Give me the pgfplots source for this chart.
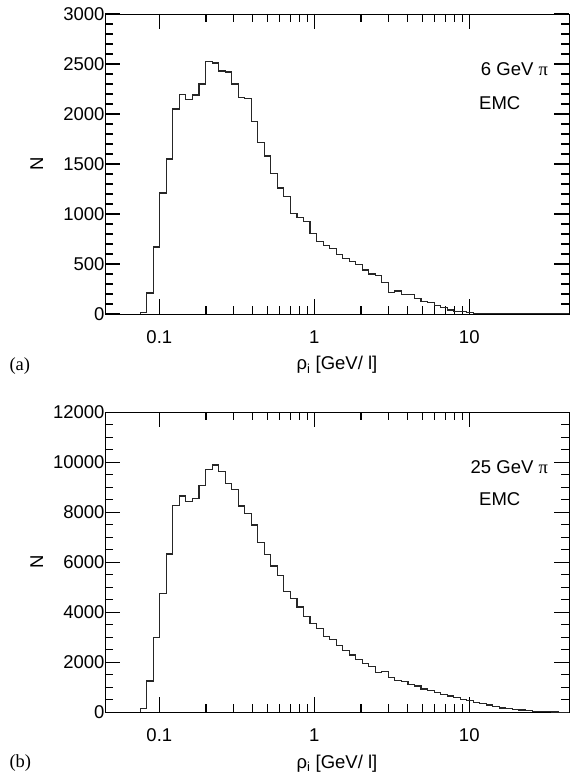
\documentclass[border=0pt]{standalone}
\usepackage{fontspec}
\setmainfont{Liberation Sans}
\newfontfamily\timesfont{Liberation Serif}
\usepackage{pgfplots}
\usepackage{pgfplotstable}
\pgfplotsset{compat=1.18}

% bin lower edge, counts (6 GeV pi)
\pgfplotstableread{
x n
0.07528 0
0.07528 15
0.08295 210
0.09140 670
0.10072 1210
0.11098 1550
0.12229 2050
0.13475 2195
0.14848 2145
0.16360 2190
0.18027 2300
0.19864 2525
0.21888 2510
0.24118 2430
0.26576 2420
0.29284 2300
0.32268 2165
0.35556 2155
0.39179 1925
0.43171 1715
0.47569 1580
0.52416 1405
0.57757 1260
0.63642 1177
0.70127 1003
0.77273 967
0.85146 923
0.93822 807
1.03382 723
1.13915 683
1.25524 653
1.38313 593
1.52406 553
1.67935 523
1.85047 493
2.03902 440
2.24679 400
2.47571 383
2.72798 313
3.00594 213
3.31222 230
3.64971 197
4.02158 193
4.43136 157
4.88290 123
5.38045 113
5.92865 83
6.53278 67
7.19841 40
7.93188 27
8.74010 23
9.63067 13
10.6119 7
11.6932 4
12.8847 3
14.1975 2
15.6441 2
17.2382 1
18.9947 1
20.9302 0
44.0 0
}\sixgev

% bin lower edge, counts (25 GeV pi)
\pgfplotstableread{
x n
0.07528 0
0.07528 150
0.08295 1250
0.09140 3000
0.10072 4760
0.11098 6330
0.12229 8280
0.13475 8650
0.14848 8430
0.16360 8550
0.18027 9060
0.19864 9700
0.21888 9890
0.24118 9630
0.26576 9160
0.29284 8900
0.32268 8250
0.35556 7960
0.39179 7490
0.43171 6780
0.47569 6320
0.52416 5850
0.57757 5465
0.63642 4840
0.70127 4545
0.77273 4210
0.85146 3825
0.93822 3560
1.03382 3345
1.13915 3025
1.25524 2905
1.38313 2665
1.52406 2465
1.67935 2290
1.85047 2120
2.03902 1960
2.24679 1840
2.47571 1600
2.72798 1625
3.00594 1385
3.31222 1280
3.64971 1225
4.02158 1120
4.43136 1052
4.88290 932
5.38045 880
5.92865 785
6.53278 705
7.19841 652
7.93188 585
8.74010 520
9.63067 465
10.6119 400
11.6932 345
12.8847 292
14.1975 225
15.6441 172
17.2382 145
18.9947 118
20.9302 92
23.0628 62
25.4127 40
28.0020 25
30.8553 15
33.9994 10
37.4635 5
41.2811 0
44.0 0
}\twentyfivegev

\begin{document}
\begin{tikzpicture}[font=\fontsize{18.5}{22}\selectfont]
\useasboundingbox (0pt,0pt) rectangle (570pt,779pt);

\begin{axis}[at={(105pt,465pt)}, anchor=south west,
  scale only axis, width=464pt, height=300pt,
  xmode=log, xmin=0.0446, xmax=44,
  xtick={0.1,1,10}, xticklabels={0.1,1,10},
  major tick length=15pt, minor tick length=8pt,
  every major tick/.append style={line width=1.1pt, black},
  every minor tick/.append style={line width=1.1pt, black},
  scaled y ticks=false,
  yticklabel style={/pgf/number format/assume math mode=true,
    /pgf/number format/1000 sep={}, xshift=3pt},
  xticklabel style={yshift=-13pt},
  xlabel={ρ\textsubscript{i} [GeV/ l]},
  ylabel={N},
  xlabel style={at={(axis description cs:0.5,-0.17)}, anchor=center},
  ylabel style={at={(axis description cs:-0.147,0.5)}, anchor=center},
  ymin=0, ymax=3000, ytick={0,500,...,3000}, minor y tick num=4]
\addplot[const plot mark left, no marks, line width=1.1pt, black!85]
  table[x=x, y=n] {\sixgev};
\node[anchor=east, inner sep=0pt] at (rel axis cs:0.955,0.817) {6 GeV {\timesfont π}};
\node[anchor=west, inner sep=0pt] at (rel axis cs:0.806,0.703) {EMC};
\end{axis}
\node[anchor=west, font=\fontsize{18.5}{22}\timesfont] at (6pt,413pt) {(a)};

\begin{axis}[at={(105pt,66.7pt)}, anchor=south west,
  scale only axis, width=464pt, height=300pt,
  xmode=log, xmin=0.0446, xmax=44,
  xtick={0.1,1,10}, xticklabels={0.1,1,10},
  major tick length=15pt, minor tick length=8pt,
  every major tick/.append style={line width=1.1pt, black},
  every minor tick/.append style={line width=1.1pt, black},
  scaled y ticks=false,
  yticklabel style={/pgf/number format/assume math mode=true,
    /pgf/number format/1000 sep={}, xshift=3pt},
  xticklabel style={yshift=-13pt},
  xlabel={ρ\textsubscript{i} [GeV/ l]},
  ylabel={N},
  xlabel style={at={(axis description cs:0.5,-0.17)}, anchor=center},
  ylabel style={at={(axis description cs:-0.147,0.5)}, anchor=center},
  ymin=0, ymax=12000, ytick={0,2000,...,12000}, minor y tick num=3]
\addplot[const plot mark left, no marks, line width=1.1pt, black!85]
  table[x=x, y=n] {\twentyfivegev};
\node[anchor=east, inner sep=0pt] at (rel axis cs:0.955,0.818) {25 GeV {\timesfont π}};
\node[anchor=west, inner sep=0pt] at (rel axis cs:0.806,0.709) {EMC};
\end{axis}
\node[anchor=west, font=\fontsize{18.5}{22}\timesfont] at (6pt,16pt) {(b)};
\end{tikzpicture}
\end{document}
